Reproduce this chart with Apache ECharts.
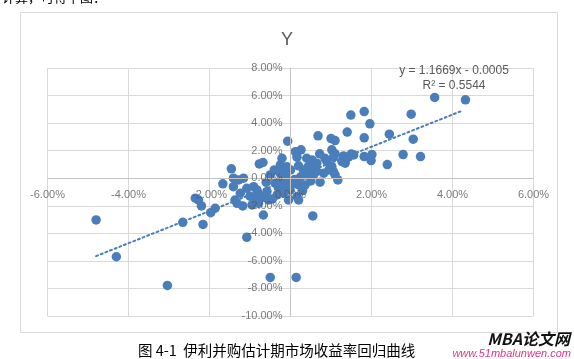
<!DOCTYPE html>
<html>
<head>
<meta charset="utf-8">
<script src="https://cdn.jsdelivr.net/npm/echarts@6/dist/echarts.min.js"></script>
<style>
html,body{margin:0;padding:0;background:#fff;}
#c{width:574px;height:359px;}
</style>
</head>
<body>
<div id="c"></div>
<script>
// Market return (x, %) vs stock return (y, %)
const pointsPct = [
  [3.56,5.86],[4.32,5.69],[1.49,4.58],[1.82,4.84],[1.96,3.95],[2.98,4.65],[-0.07,2.69],[0.68,3.08],
  [1.00,2.88],[1.10,2.73],[1.40,3.35],[1.82,2.93],[2.44,3.20],[3.03,2.83],[2.78,1.72],[3.21,1.57],
  [2.39,0.99],[1.82,1.57],[2.01,1.72],[1.99,1.28],[0.17,1.93],[0.26,2.06],[0.16,1.53],[0.72,1.77],
  [1.02,2.06],[1.10,1.77],[1.06,1.53],[1.31,1.62],[1.43,1.53],[1.56,1.69],[1.27,1.21],[1.35,1.09],
  [-0.21,1.45],[-0.25,0.97],[-0.09,0.84],
  [0.53,1.33],[0.65,1.09],[0.44,0.84],[0.32,0.60],[0.36,0.24],[0.57,0.24],[0.82,0.36],[0.73,-0.29],
  [1.02,0.84],[1.06,0.48],[1.10,0.24],[1.17,-0.12],[-0.17,0.36],[-0.25,-0.25],[-0.09,-0.36],[0.07,-0.36],
  [0.20,-0.49],[0.36,-0.49],[-0.17,-1.09],[-0.01,-0.85],[0.20,-1.58],[0.55,-2.74],[0.14,-7.20],
  [-4.80,-3.03],[-4.30,-5.70],[-3.04,-7.78],[-2.66,-3.20],[-2.16,-3.35],[-2.35,-1.45],[-2.27,-1.58],
  [-2.20,-2.01],[-1.97,-2.50],[-1.86,-2.18],[-1.67,-0.41],[-1.46,0.68],[-1.41,0.00],[-1.41,-0.61],
  [-1.28,-0.12],[-1.37,-1.58],[-1.32,-1.82],[-1.24,-1.09],[-1.16,0.00],[-1.08,-0.73],[-1.18,-2.01],
  [-1.08,-4.29],[-0.77,1.04],[-0.68,1.14],[-0.50,-7.20],[-0.67,-2.67],[-0.91,-0.61],[-0.83,-0.85],
  [-0.87,-1.58],[-0.95,-1.94],[-0.79,-1.82],[-0.67,-1.34],[-0.58,-0.97],[-0.54,-1.58],[-0.50,0.24],
  [-0.38,-0.36],[-0.25,0.36],[-0.21,-0.25],[-0.33,-1.21],[-0.17,-0.97],[-0.09,-0.61],[-0.05,-1.58],
  [0.16,-1.34],[0.12,1.93],
  [0.45,0.50],[0.25,0.10],[0.60,0.70],[0.90,1.20],[0.95,0.60],[0.85,1.45],[-0.40,0.60],[-0.60,-0.30],
  [-0.10,0.10],[0.10,-0.10],[0.30,-0.90],[-0.45,-1.50],[0.50,-0.20],[1.30,1.40],[1.50,1.75],[0.40,1.45],
  [-0.80,-1.10],[-1.00,-1.30],[0.00,0.60],[0.20,0.90],[0.65,0.50],[-0.30,-0.70]
];
const trendSlope = 1.1669;
const trendIntercept = -0.0005;
const trendXEnds = [-0.048, 0.0426];
const xTickValues = [-0.06, -0.04, -0.02, 0, 0.02, 0.04, 0.06];
const yTickValues = [-0.10, -0.08, -0.06, -0.04, -0.02, 0, 0.02, 0.04, 0.06, 0.08];
const titleText = 'Y';
const eqText = 'y = 1.1669x - 0.0005';
const r2Text = 'R² = 0.5544';
const captionText = '图 4-1  伊利并购估计期市场收益率回归曲线';

const points = pointsPct.map(p => [p[0] / 100, p[1] / 100]);
const trend = trendXEnds.map(x => [x, trendSlope * x + trendIntercept]);

const pct = v => {
  const r = Math.round(v * 10000) / 100;
  return (r === 0 ? 0 : r).toFixed(2) + '%';
};
const FONT = 'Liberation Sans, Arial, sans-serif';
const tickLabel = { color: '#595959', fontSize: 11, fontFamily: FONT };

const chart = echarts.init(document.getElementById('c'), null, { renderer: 'canvas' });
chart.setOption({
  backgroundColor: '#fff',
  animation: false,
  grid: { left: 47.5, right: 40.5, top: 68, bottom: 43 },
  title: {
    text: titleText, left: 'center', top: 26,
    textStyle: { color: '#595959', fontSize: 18, fontWeight: 'normal', fontFamily: FONT }
  },
  xAxis: {
    type: 'value', min: xTickValues[0], max: xTickValues[xTickValues.length - 1], interval: 0.02,
    axisLine: { show: false }, axisTick: { show: false }, axisLabel: { show: false },
    splitLine: { show: true, lineStyle: { color: '#d9d9d9', width: 1 } }
  },
  yAxis: {
    type: 'value', min: yTickValues[0], max: yTickValues[yTickValues.length - 1], interval: 0.02,
    axisLine: { show: false }, axisTick: { show: false }, axisLabel: { show: false },
    splitLine: { show: true, lineStyle: { color: '#d9d9d9', width: 1 } }
  },
  series: [
    { type: 'line', data: [], z: 1, silent: true,
      markLine: { silent: true, symbol: 'none', label: { show: false },
        lineStyle: { color: '#c4c4c4', width: 1, type: 'solid' },
        data: [{ xAxis: 0 }, { yAxis: 0 }] } },
    { type: 'scatter', data: points, symbolSize: 9.5, z: 3,
      itemStyle: { color: '#4a7ebb', opacity: 1 } },
    { type: 'line', data: trend, symbol: 'none', z: 4,
      lineStyle: { color: '#4a7ebb', width: 2, type: [2, 3], cap: 'round' } },
    { type: 'scatter', data: xTickValues.map(v => [v, 0]), symbolSize: 0, z: 6, silent: true,
      label: Object.assign({ show: true, position: 'bottom', distance: 11, formatter: p => pct(p.value[0]) }, tickLabel) },
    { type: 'scatter', data: yTickValues.map(v => [0, v]), symbolSize: 0, z: 6, silent: true,
      label: Object.assign({ show: true, position: 'left', distance: 8, align: 'right', formatter: p => pct(p.value[1]) }, tickLabel) }
  ],
  graphic: [
    { type: 'rect', shape: { x: 20.5, y: 12.5, width: 537, height: 320 }, silent: true, z: -1,
      style: { fill: 'none', stroke: '#d9d9d9', lineWidth: 1 } },
    { type: 'text', x: 454, y: 71, z: 10,
      style: { text: eqText, fill: '#595959', fontSize: 12, fontFamily: FONT, align: 'center', verticalAlign: 'middle' } },
    { type: 'text', x: 454, y: 86, z: 10,
      style: { text: r2Text, fill: '#595959', fontSize: 12, fontFamily: FONT, align: 'center', verticalAlign: 'middle' } },
    { type: 'text', x: 138, y: 350,
      style: { text: captionText, fill: '#000', fontSize: 14.5, fontFamily: 'Noto Sans CJK SC', align: 'left', verticalAlign: 'middle' } },
    { type: 'text', x: 570, y: 339,
      style: { text: 'MBA论文网', fill: '#111', fontSize: 16, fontWeight: 'bold', fontStyle: 'italic', fontFamily: 'Noto Sans CJK SC', align: 'right', verticalAlign: 'middle' } },
    { type: 'text', x: 571, y: 354,
      style: { text: 'www.51mbalunwen.com', fill: '#e0368a', fontSize: 11, fontStyle: 'italic', fontFamily: FONT, align: 'right', verticalAlign: 'middle' } },
    { type: 'text', x: 2, y: -9,
      style: { text: '计算，可得下图：', fill: '#000', fontSize: 13, fontFamily: 'Noto Sans CJK SC', align: 'left', verticalAlign: 'top' } }
  ]
});
</script>
</body>
</html>
